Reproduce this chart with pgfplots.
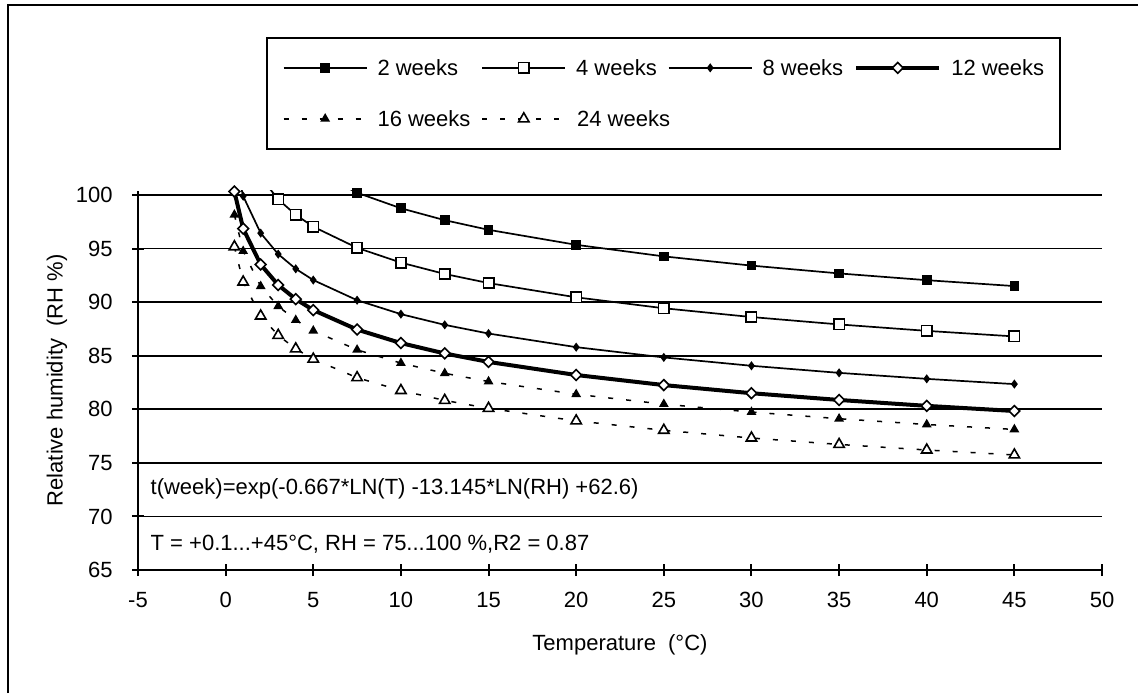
\documentclass[border=0pt]{standalone}
\usepackage{fontspec}
\setmainfont{Liberation Sans}
\usepackage{pgfplots}
\pgfplotsset{compat=1.18}
\begin{document}
\begin{tikzpicture}[x=1pt,y=1pt]
\path[use as bounding box] (-69,-61.5) rectangle (500,285);
\draw[line width=1.1pt] (-65,-61.5) -- (-65,282.5) -- (500,282.5);
\begin{axis}[
  at={(0,0)}, anchor=south west,
  scale only axis, width=482pt, height=189.65pt,
  xmin=-5, xmax=50, ymin=65, ymax=100.4,
  xtick={-5,0,...,50}, ytick={65,70,...,100},
  axis lines=left, axis line style={-, line width=1.4pt},
  tick align=center, major tick length=6pt, tick style={line width=1pt, black},
  ymajorgrids, grid style={line width=0.8pt, black},
  font=\fontsize{11}{13}\selectfont,
  ticklabel style={font=\fontsize{11}{13}\selectfont},
  /pgf/number format/assume math mode=true,
  xticklabel style={inner sep=0pt, yshift=-8pt},
  yticklabel style={inner sep=0pt, xshift=-9.5pt},
  xlabel={Temperature\ \ (°C)},
  ylabel={Relative humidity\ \ (RH \%)},
  every axis x label/.style={at={(axis description cs:0.5,-0.198)}, anchor=center},
  every axis y label/.style={at={(axis description cs:-0.084,0.5)}, rotate=90, anchor=center},
  legend columns=4,
  legend cell align=left,
  legend style={at={(axis description cs:0.1328,1.405)}, anchor=north west,
    draw=black, line width=0.8pt, inner xsep=8pt, inner ysep=11pt,
    font=\fontsize{11}{13}\selectfont,
    nodes={inner sep=0pt, text depth=0pt}, row sep=17.5pt,
    /tikz/every odd column/.append style={column sep=5pt},
    /tikz/every even column/.append style={column sep=5.5pt}},
  legend image code/.code={\draw[mark repeat=2,mark phase=2] plot coordinates {(0pt,0pt) (20.75pt,0pt) (41.5pt,0pt)};},
]
% segments that leave the top of the chart (no marks)
\addplot[black, line width=0.85pt, no markers, forget plot] coordinates {(5,102.30)(7.5,100.21)};
\addplot[black, line width=0.85pt, no markers, forget plot] coordinates {(2,101.66)(3,99.59)};
\addplot[black, line width=0.85pt, no markers, forget plot] coordinates {(0.5,103.47)(1,99.89)};

\addplot[black, line width=0.85pt, mark=square*, mark size=2pt, mark options={solid}] coordinates {
(7.5,100.21)(10,98.76)(12.5,97.65)(15,96.75)(20,95.35)(25,94.27)(30,93.41)(35,92.68)(40,92.05)(45,91.50)};
\addlegendentry{2 weeks}
\addplot[black, line width=0.85pt, mark=square*, mark size=2.6pt, mark options={solid, fill=white, line width=0.8pt}] coordinates {
(3,99.59)(4,98.15)(5,97.04)(7.5,95.07)(10,93.69)(12.5,92.63)(15,91.78)(20,90.45)(25,89.43)(30,88.61)(35,87.92)(40,87.32)(45,86.80)};
\addlegendentry{4 weeks}
\addplot[black, line width=0.85pt, mark=diamond*, mark size=1.6pt, mark options={solid}] coordinates {
(1,99.89)(2,96.44)(3,94.48)(4,93.11)(5,92.06)(7.5,90.18)(10,88.88)(12.5,87.88)(15,87.07)(20,85.80)(25,84.84)(30,84.06)(35,83.40)(40,82.84)(45,82.35)};
\addlegendentry{8 weeks}
\addplot[black, line width=2pt, mark=square*, mark size=1.9pt, mark options={solid, rotate=45, fill=white, line width=0.8pt}] coordinates {
(0.5,100.32)(1,96.86)(2,93.51)(3,91.60)(4,90.28)(5,89.26)(7.5,87.44)(10,86.18)(12.5,85.21)(15,84.42)(20,83.20)(25,82.26)(30,81.50)(35,80.87)(40,80.32)(45,79.84)};
\addlegendentry{12 weeks}
\addplot[black, line width=0.75pt, dash pattern=on 2.5pt off 6.5pt, mark=triangle*, mark size=2.1pt, mark options={solid}] coordinates {
(0.5,98.15)(1,94.76)(2,91.48)(3,89.62)(4,88.32)(5,87.33)(7.5,85.55)(10,84.31)(12.5,83.36)(15,82.59)(20,81.40)(25,80.48)(30,79.74)(35,79.12)(40,78.58)(45,78.12)};
\addlegendentry{16 weeks}
\addplot[black, line width=0.75pt, dash pattern=on 2.5pt off 6.5pt, mark=triangle*, mark size=3pt, mark options={solid, fill=white, line width=0.8pt}] coordinates {
(0.5,95.17)(1,91.88)(2,88.71)(3,86.90)(4,85.64)(5,84.68)(7.5,82.95)(10,81.75)(12.5,80.83)(15,80.09)(20,78.92)(25,78.04)(30,77.32)(35,76.72)(40,76.20)(45,75.74)};
\addlegendentry{\makebox[0pt][l]{24 weeks}}
\node[anchor=west, inner sep=0pt, font=\fontsize{11}{13}\selectfont] at (axis cs:-4.3,72.6) {t(week)=exp(-0.667*LN(T) -13.145*LN(RH) +62.6)};
\node[anchor=west, inner sep=0pt, font=\fontsize{11}{13}\selectfont] at (axis cs:-4.3,67.4) {T = +0.1...+45°C, RH = 75...100 \%,R2 = 0.87};
\end{axis}
\end{tikzpicture}
\end{document}
